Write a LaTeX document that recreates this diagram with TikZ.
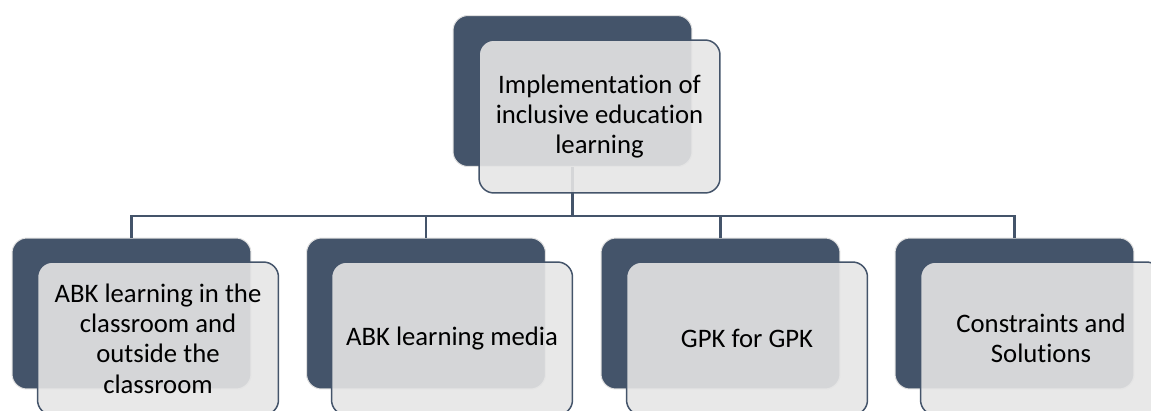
\documentclass[tikz,border=0pt]{standalone}
\usepackage{fontspec}
\setmainfont{Carlito}[Ligatures=NoCommon]
\usetikzlibrary{positioning}

\definecolor{slate}{HTML}{44546A}
\tikzset{
  back/.style={draw=white!88!black, line width=0.02cm, fill=slate,
    rounded corners=0.3cm, minimum width=4.78cm, minimum height=3.02cm, inner sep=0pt},
  front/.style={draw=slate, line width=0.03cm, fill=gray!20, fill opacity=0.9,
    text opacity=1, rounded corners=0.3cm, minimum width=4.82cm, minimum height=3.06cm,
    inner sep=0pt, align=center, font=\fontsize{15.2}{17.2}\selectfont},
  link/.style={draw=slate, line width=0.05cm},
}

\begin{document}
\begin{tikzpicture}[x=0.02cm,y=-0.02cm]

\useasboundingbox (0,0) rectangle (1151,410);
\clip (0,0) rectangle (1151,410);

% dark back plates
\node[back] (topback) at (572.5,91) {};
\node[back] (classback) at (131.5,313.5) {};
\node[back] (mediaback) at (426,313.5) {};
\node[back] (gpkback) at (720.5,313.5) {};
\node[back] (solveback) at (1014.5,313.5) {};

% tree lines
\coordinate (bus) at (572.5,216);
\draw[link] (topback.south) -- (bus);
\draw[link] (bus) -| (classback.north);
\draw[link] (bus) -| (mediaback.north);
\draw[link] (bus) -| (gpkback.north);
\draw[link] (bus) -| (solveback.north);

% text cards
\node[front] (top) at (599.5,116.5) {Implementation of\\inclusive education\\learning};
\node[front] (class) at (158,338.5) {ABK learning in the\\classroom and\\outside the\\classroom};
\node[front] (media) at (452,338.5) {ABK learning media};
\node[front] (gpk) at (747,338.5) {GPK for GPK};
\node[front] (solve) at (1041,338.5) {Constraints and\\Solutions};

\end{tikzpicture}
\end{document}
